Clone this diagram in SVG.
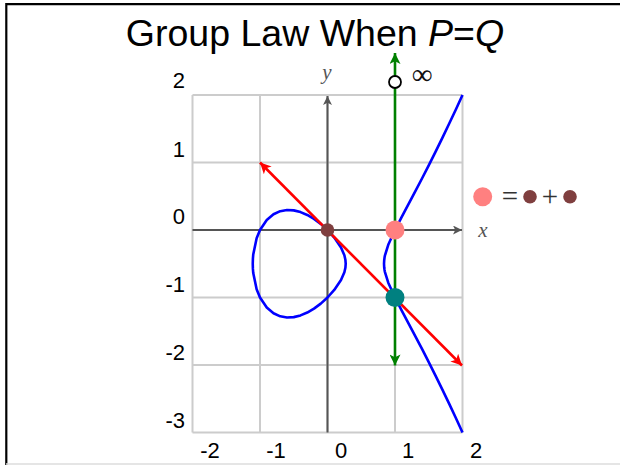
<svg xmlns="http://www.w3.org/2000/svg" width="620" height="465" viewBox="0 0 620 465">
<style>
.grid{stroke:#cccccc;stroke-width:2;fill:none}
.axis{stroke:#555555;stroke-width:2;fill:none}
.curve{stroke:#0000ff;stroke-width:2.6;fill:none;stroke-linejoin:round}
.lbl{font-family:"Liberation Sans",Arial,sans-serif;font-size:22px;fill:#000}
.var{font-family:"Liberation Serif","DejaVu Serif",serif;font-style:italic;font-size:21px;fill:#555}
.sym{font-family:"Liberation Serif","DejaVu Serif",serif;font-size:29px;fill:#333}
</style>
<defs>
<marker id="ah-axis" viewBox="0 0 10 10" refX="10" refY="5" markerWidth="11" markerHeight="9" markerUnits="userSpaceOnUse" orient="auto">
<path d="M0,0 L10,5 L0,10 L2.5,5 z" fill="#555555"/>
</marker>
<marker id="ah-red" viewBox="0 0 10 10" refX="10" refY="5" markerWidth="15" markerHeight="11" markerUnits="userSpaceOnUse" orient="auto-start-reverse">
<path d="M0,0 L10,5 L0,10 L2.5,5 z" fill="#ff0000"/>
</marker>
<marker id="ah-green" viewBox="0 0 10 10" refX="10" refY="5" markerWidth="15" markerHeight="11" markerUnits="userSpaceOnUse" orient="auto-start-reverse">
<path d="M0,0 L10,5 L0,10 L2.5,5 z" fill="#008000"/>
</marker>
</defs>
<rect width="620" height="465" fill="#ffffff"/>
<g id="frame">
<path d="M6.3,465 V4.2 H620" fill="none" stroke="#000" stroke-width="2.2"/>
<line x1="6" y1="464" x2="620" y2="464" stroke="#dddddd" stroke-width="1.5"/>
</g>
<text id="title" x="315" y="46" text-anchor="middle" font-family="'Liberation Sans',Arial,sans-serif" font-size="37.5" fill="#000">Group Law When <tspan font-style="italic">P</tspan>=<tspan font-style="italic">Q</tspan></text>
<g id="grid">
<path class="grid" d="M192.5,95 V432.5 M260,95 V432.5 M327.5,95 V432.5 M395,95 V432.5 M462.5,95 V432.5 M192.5,95 H462.5 M192.5,162.5 H462.5 M192.5,230 H462.5 M192.5,297.5 H462.5 M192.5,365 H462.5 M192.5,432.5 H462.5"/>
</g>
<g id="ticks">
<text class="lbl" x="185" y="88" text-anchor="end">2</text>
<text class="lbl" x="185" y="157" text-anchor="end">1</text>
<text class="lbl" x="185" y="224" text-anchor="end">0</text>
<text class="lbl" x="185" y="292" text-anchor="end">-1</text>
<text class="lbl" x="185" y="360" text-anchor="end">-2</text>
<text class="lbl" x="185" y="428" text-anchor="end">-3</text>
<text class="lbl" x="210" y="458" text-anchor="middle">-2</text>
<text class="lbl" x="276" y="458" text-anchor="middle">-1</text>
<text class="lbl" x="341" y="458" text-anchor="middle">0</text>
<text class="lbl" x="408" y="458" text-anchor="middle">1</text>
<text class="lbl" x="476" y="458" text-anchor="middle">2</text>
</g>
<g id="axes">
<line class="axis" x1="192.5" y1="230" x2="462" y2="230" marker-end="url(#ah-axis)"/>
<line class="axis" x1="327.5" y1="432.5" x2="327.5" y2="96" marker-end="url(#ah-axis)"/>
<text class="var" x="483" y="237" text-anchor="middle">x</text>
<text class="var" x="327" y="79" text-anchor="middle">y</text>
</g>
<g id="curve">
<path class="curve" d="M252.76,263.75 L252.91,258.6 L253.25,254.44 L256.63,238.28 L260,230 L266.75,219.96 L273.5,214.24 L280.25,211.16 L287,210.01 L293.75,210.38 L300.5,212.08 L307.25,214.93 L314,218.88 L320.75,223.87 L327.5,230 L334.25,237.52 L341,247.5 L344.38,255.31 L345.39,259.69 L345.7,263.75 L345.39,267.81 L344.38,272.19 L341,280 L334.25,289.98 L327.5,297.5 L320.75,303.63 L314,308.62 L307.25,312.57 L300.5,315.42 L293.75,317.12 L287,317.49 L280.25,316.34 L273.5,313.26 L266.75,307.54 L260,297.5 L256.63,289.22 L253.25,273.07 L252.91,268.9 Z"/>
<path class="curve" d="M462.5,95 L455.75,109.69 L449,124.07 L442.25,138.14 L435.5,151.9 L428.75,165.35 L422,178.53 L415.25,191.46 L408.5,204.21 L401.75,216.94 L395,230 L388.25,244.78 L384.88,255.73 L384.54,257.58 L384.2,260.24 L384.02,263.75 L384.2,267.26 L384.54,269.92 L384.88,271.77 L388.25,282.72 L395,297.5 L401.75,310.56 L408.5,323.29 L415.25,336.04 L422,348.97 L428.75,362.15 L435.5,375.6 L442.25,389.36 L449,403.43 L455.75,417.81 L462.5,432.5"/>
</g>
<g id="connectors">
<line x1="260" y1="162.5" x2="462" y2="365.5" stroke="#ff0000" stroke-width="2.6" marker-start="url(#ah-red)" marker-end="url(#ah-red)"/>
<line x1="395" y1="53" x2="395" y2="365.5" stroke="#008000" stroke-width="2.6" marker-start="url(#ah-green)" marker-end="url(#ah-green)"/>
</g>
<g id="point-infinity">
<circle cx="395" cy="82" r="6" fill="#ffffff" stroke="#000" stroke-width="1.8"/>
<text class="sym" x="422" y="84" text-anchor="middle" fill="#111" style="fill:#111">∞</text>
</g>
<g id="point-P">
<circle cx="327.5" cy="230" r="6.8" fill="#7f3f3f"/>
</g>
<g id="point-2P">
<circle cx="395" cy="230" r="9.5" fill="#ff8080"/>
</g>
<g id="point-R">
<circle cx="395" cy="297.5" r="9.5" fill="#008080"/>
</g>
<g id="legend">
<circle cx="482.7" cy="196.7" r="9.5" fill="#ff8080"/>
<text class="sym" x="510" y="206" text-anchor="middle">=</text>
<circle cx="530" cy="196.7" r="6.8" fill="#7f3f3f"/>
<text class="sym" x="550" y="206" text-anchor="middle">+</text>
<circle cx="570" cy="196.7" r="6.8" fill="#7f3f3f"/>
</g>
</svg>
